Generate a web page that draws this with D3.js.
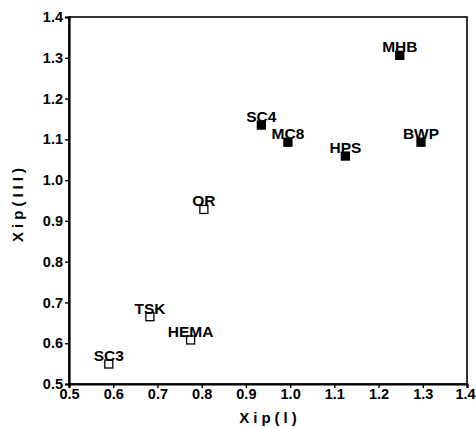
<!DOCTYPE html>
<html>
<head>
<meta charset="utf-8">
<script src="https://cdn.jsdelivr.net/npm/d3@7"></script>
<style>
  body { margin: 0; background: #fff; }
  text { font-family: "Liberation Sans", Arial, sans-serif; font-weight: bold; fill: #000; }
</style>
</head>
<body>
<div id="chart"></div>
<script>
// data
var names  = ["SC3", "TSK", "HEMA", "OR", "SC4", "MC8", "HPS", "BWP", "MHB"];
var xipI   = [0.590, 0.683, 0.775, 0.805, 0.935, 0.995, 1.125, 1.296, 1.248];
var xipIII = [0.549, 0.665, 0.608, 0.928, 1.135, 1.093, 1.059, 1.093, 1.306];
var filled = [false, false, false, false, true, true, true, true, true];
var ticks  = [0.5, 0.6, 0.7, 0.8, 0.9, 1.0, 1.1, 1.2, 1.3, 1.4];

(function() {
  var width = 476, height = 428;
  var margin = {left: 69, right: 9, top: 17, bottom: 44};

  var svg = d3.select("#chart").append("svg")
    .attr("width", width)
    .attr("height", height);

  var x = d3.scaleLinear().domain([0.5, 1.4]).range([margin.left, width - margin.right]);
  var y = d3.scaleLinear().domain([0.5, 1.4]).range([height - margin.bottom, margin.top]);

  var points = names.map(function(n, i) {
    return {name: n, x: xipI[i], y: xipIII[i], filled: filled[i]};
  });

  // frame (top + right)
  svg.append("rect")
    .attr("x", x(0.5)).attr("y", y(1.4))
    .attr("width", x(1.4) - x(0.5)).attr("height", y(0.5) - y(1.4))
    .attr("fill", "none").attr("stroke", "#000").attr("stroke-width", 1.6);

  // axes
  var xAxis = svg.append("g")
    .attr("transform", "translate(0," + y(0.5) + ")")
    .call(d3.axisBottom(x).tickValues(ticks).tickFormat(d3.format(".1f")).tickSize(4).tickPadding(1));
  var yAxis = svg.append("g")
    .attr("transform", "translate(" + x(0.5) + ",0)")
    .call(d3.axisLeft(y).tickValues(ticks).tickFormat(d3.format(".1f")).tickSize(4).tickPadding(2));

  [xAxis, yAxis].forEach(function(a) {
    a.select(".domain").attr("stroke-width", 2.2);
    a.selectAll(".tick line").attr("stroke-width", 1.4);
    a.selectAll("text").style("font-size", "14.5px").style("font-weight", "bold")
      .style("font-family", "'Liberation Sans', Arial, sans-serif").attr("fill", "#000");
  });

  // last x tick label sits at the page edge, nudge it in
  xAxis.selectAll(".tick text")
    .filter(function(d) { return d === 1.4; })
    .attr("dx", "-2px");

  // axis titles
  svg.append("text")
    .attr("x", (x(0.5) + x(1.4)) / 2 + 2)
    .attr("y", 423)
    .attr("text-anchor", "middle")
    .style("font-size", "15px")
    .style("letter-spacing", "4px")
    .text("Xip(l)");

  svg.append("text")
    .attr("transform", "translate(23," + 203 + ") rotate(-90)")
    .attr("text-anchor", "middle")
    .style("font-size", "15px")
    .style("letter-spacing", "4px")
    .text("Xip(III)");

  // markers
  var s = 8;
  svg.selectAll(".pt")
    .data(points)
    .enter().append("rect")
    .attr("class", "pt")
    .attr("x", function(d) { return x(d.x) - s / 2; })
    .attr("y", function(d) { return y(d.y) - s / 2; })
    .attr("width", s).attr("height", s)
    .attr("fill", function(d) { return d.filled ? "#000" : "#fff"; })
    .attr("stroke", "#000")
    .attr("stroke-width", 1.3);

  // labels
  svg.selectAll(".lbl")
    .data(points)
    .enter().append("text")
    .attr("class", "lbl")
    .attr("x", function(d) { return x(d.x); })
    .attr("y", function(d) { return y(d.y) - 3; })
    .attr("text-anchor", "middle")
    .style("font-size", "15.5px")
    .text(function(d) { return d.name; });
})();
</script>
</body>
</html>
